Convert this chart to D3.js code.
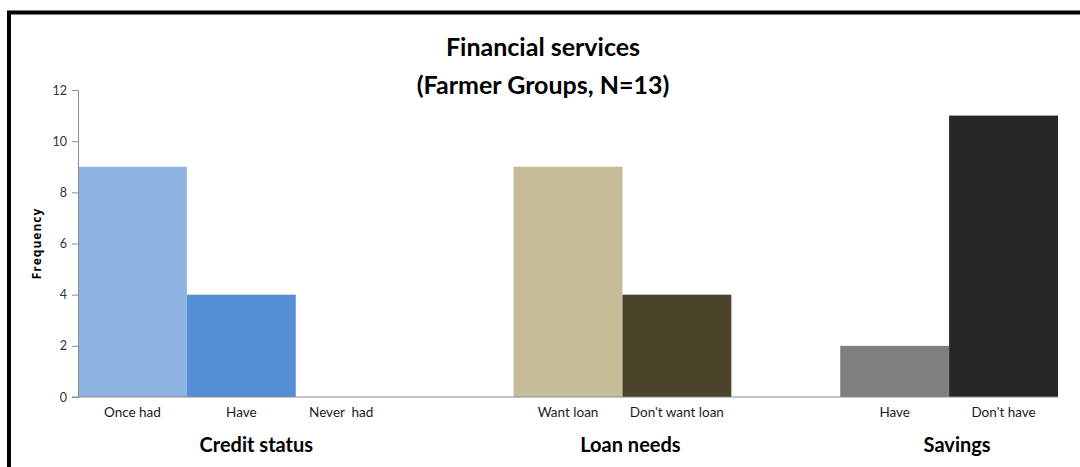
<!DOCTYPE html>
<html>
<head>
<meta charset="utf-8">
<script src="https://cdn.jsdelivr.net/npm/d3@7/dist/d3.min.js"></script>
<style>
  html, body { margin: 0; padding: 0; background: #fff; }
  svg { display: block; font-family: Lato, "Open Sans", sans-serif; }
</style>
</head>
<body>
<svg id="chart" width="1080" height="467"></svg>
<script>
// Category slots along the x axis (empty slots separate the groups)
const slots = ["Once had", "Have", "Never  had", "gap1", "Want loan", "Don't want loan", "gap2", "Have ", "Don't have"];
const categories = ["Once had", "Have", "Never  had", "Want loan", "Don't want loan", "Have ", "Don't have"];
const frequencies = [9, 4, 0, 9, 4, 2, 11];
const barColors = ["#8eb4e3", "#558ed5", "#558ed5", "#c4bd97", "#4a452a", "#7f7f7f", "#262626"];
const groups = ["Credit status", "Loan needs", "Savings"];
const groupSlots = [["Once had", "Never  had"], ["Want loan", "Don't want loan"], ["Have ", "Don't have"]];
const yTicks = [0, 2, 4, 6, 8, 10, 12];

const svg = d3.select("#chart");
const margin = { left: 78, right: 22, top: 90, bottom: 70 };
const W = 1080, H = 467;

// Outer frame
svg.append("rect")
  .attr("x", 9).attr("y", 12.5)
  .attr("width", 1200).attr("height", 600)
  .attr("fill", "none").attr("stroke", "#000").attr("stroke-width", 4);

const x = d3.scaleBand().domain(slots).range([margin.left, W - margin.right]).padding(0);
const y = d3.scaleLinear().domain([0, 12]).range([H - margin.bottom, margin.top]);

// Bars
svg.append("g").selectAll("rect")
  .data(categories.map((c, i) => ({ c, v: frequencies[i], col: barColors[i] })))
  .join("rect")
  .attr("x", d => x(d.c))
  .attr("y", d => y(d.v))
  .attr("width", x.bandwidth())
  .attr("height", d => y(0) - y(d.v))
  .attr("fill", d => d.col);

// Y axis
const yAxis = svg.append("g")
  .attr("transform", `translate(${margin.left},0)`)
  .call(d3.axisLeft(y).tickValues(yTicks).tickSize(6).tickPadding(5).tickFormat(d3.format("d")));
yAxis.selectAll("path, line").attr("stroke", "#8c8c8c");
yAxis.selectAll("text").attr("font-size", 12.5).attr("fill", "#333").attr("font-family", "Lato, sans-serif");

// X axis baseline
svg.append("line")
  .attr("x1", margin.left - 6).attr("x2", W - margin.right)
  .attr("y1", y(0)).attr("y2", y(0))
  .attr("stroke", "#8c8c8c");

// Category labels
svg.append("g").selectAll("text")
  .data(categories)
  .join("text")
  .attr("x", d => x(d) + x.bandwidth() / 2 + (d === "Never  had" ? -9 : 0))
  .attr("y", y(0) + 20)
  .attr("text-anchor", "middle")
  .attr("font-size", 13.5)
  .attr("fill", "#1a1a1a")
  .style("white-space", "pre")
  .text(d => d.trim());

// Group labels
svg.append("g").selectAll("text")
  .data(groups)
  .join("text")
  .attr("x", (d, i) => {
    const a = x(groupSlots[i][0]);
    const b = x(groupSlots[i][1]) + x.bandwidth();
    return (a + b) / 2 + (i === 0 ? 15 : 8);
  })
  .attr("y", y(0) + 55)
  .attr("text-anchor", "middle")
  .attr("font-size", 20)
  .attr("font-weight", "bold")
  .attr("fill", "#000")
  .text(d => d);

// Y axis title
svg.append("text")
  .attr("transform", `translate(41,${(y(0) + y(12)) / 2}) rotate(-90)`)
  .attr("text-anchor", "middle")
  .attr("font-family", "'Open Sans', sans-serif")
  .attr("font-size", 12)
  .attr("font-weight", "bold")
  .attr("letter-spacing", 1)
  .attr("fill", "#000")
  .text("Frequency");

// Title
const title = svg.append("text")
  .attr("text-anchor", "middle")
  .attr("font-size", 25)
  .attr("font-weight", "bold")
  .attr("fill", "#000");
title.append("tspan").attr("x", 543).attr("y", 56).text("Financial services");
title.append("tspan").attr("x", 543).attr("y", 94).text("(Farmer Groups, N=13)");
</script>
</body>
</html>
